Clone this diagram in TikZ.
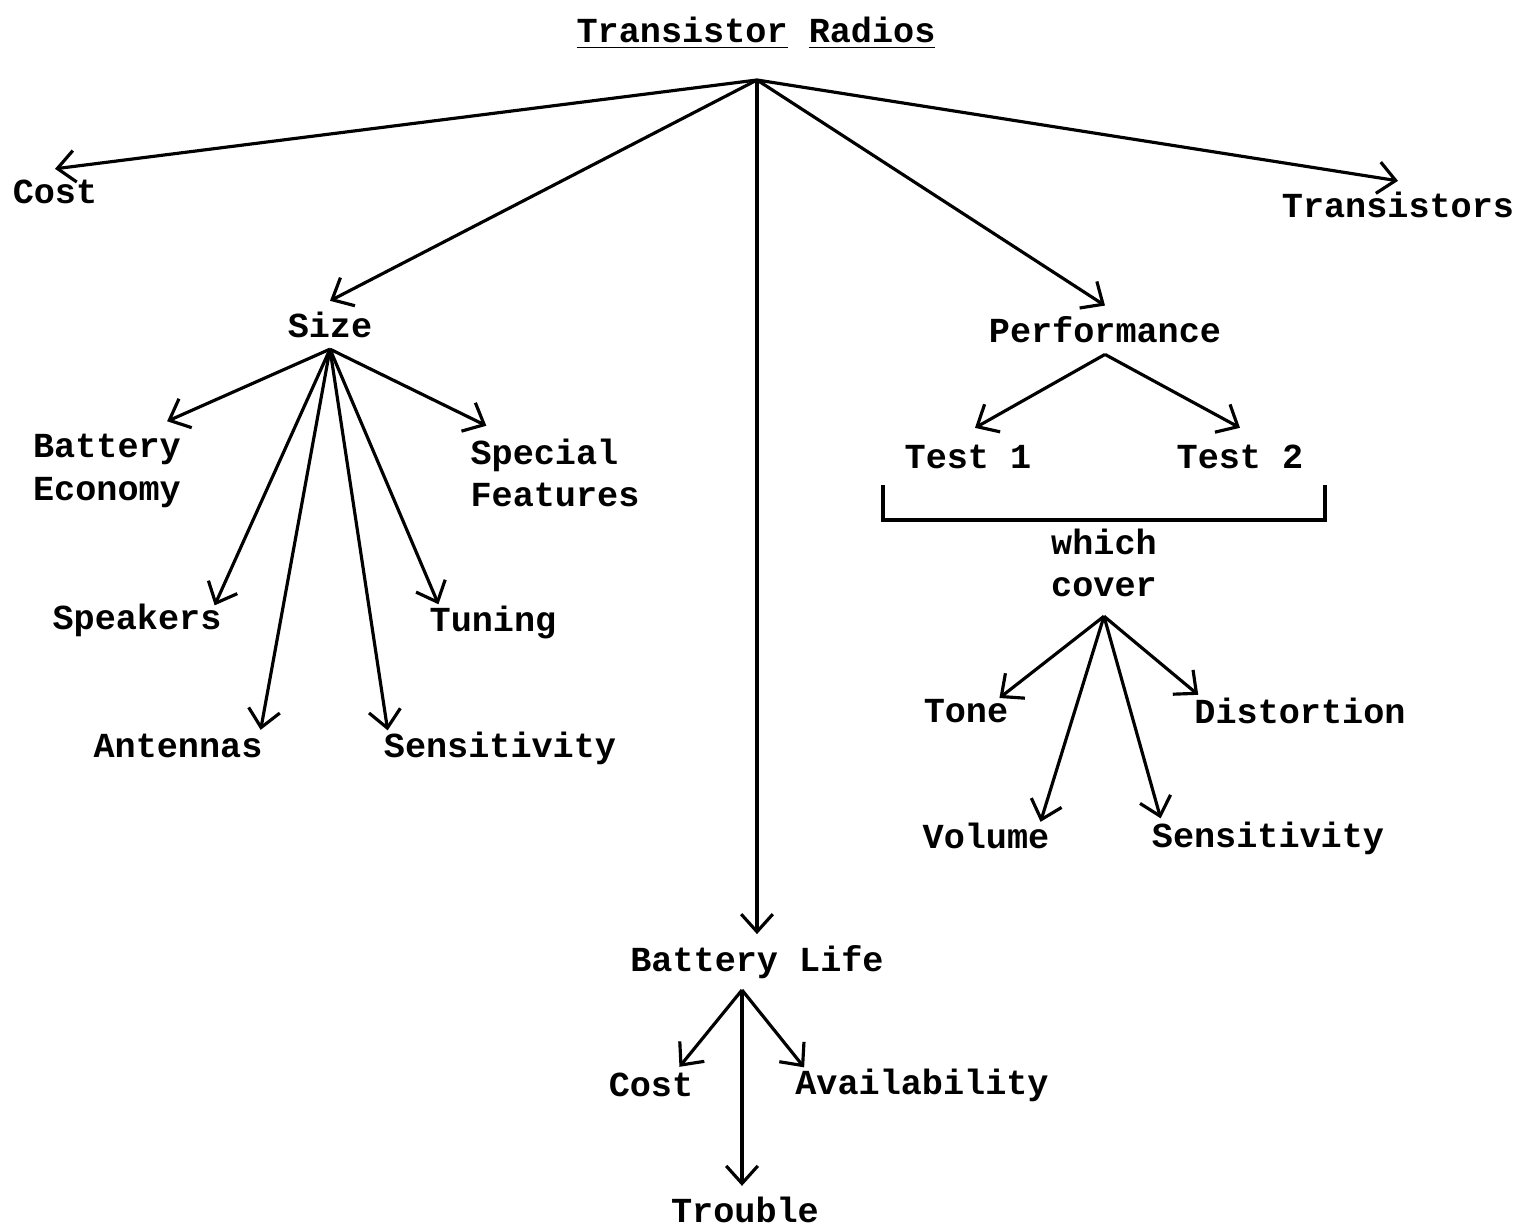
\documentclass[tikz,border=0pt]{standalone}
\usepackage{fontspec}
\setmonofont{Liberation Mono}
\usetikzlibrary{arrows.meta}
\begin{document}
\begin{tikzpicture}[x=0.01cm,y=-0.01cm,
    item/.style={font=\ttfamily\bfseries, inner sep=3pt, align=left},
    link/.style={-{Straight Barb[length=5pt,width=9pt]}, line width=0.9pt}]
    \useasboundingbox (0,0) rectangle (1517,1227);
    % Heading and its hub
    \node[item] (radios) at (756,33) {\underline{Transistor} \underline{Radios}};
    \coordinate (hub) at (757,80);
    % First level
    \node[item] (cost) at (55,192) {Cost};
    \node[item] (trans) at (1398,205) {Transistors};
    \node[item] (size) at (330,325) {Size};
    \node[item] (perf) at (1105,330) {Performance};
    \node[item] (blife) at (757,962) {Battery Life};
    \foreach \t in {cost,trans,size,perf,blife} {
        \draw[link] (hub) -- (\t.north);
    }
    % Under Size
    \node[item] (beco) at (107,471) {Battery\\Economy};
    \node[item] (spec) at (555,473) {Special\\Features};
    \node[item] (spkr) at (137,620) {Speakers};
    \node[item] (tune) at (493,622) {Tuning};
    \node[item] (ante) at (178,746) {Antennas};
    \node[item] (sens) at (500,748) {Sensitivity};
    \foreach \t/\a/\dx/\dy in {beco/north east/-25/-2,spec/north west/27/-2,
                               spkr/north east/-18/13,tune/north west/20/10,
                               ante/north east/-13/7,sens/north west/15/10} {
        \draw[link] (size.south) -- ([shift={(\dx,\dy)}]\t.\a);
    }
    % Under Performance
    \node[item] (testa) at (968,457) {Test 1};
    \node[item] (testb) at (1240,457) {Test 2};
    \draw[link] (perf.south) -- ([shift={(7,-6)}]testa.north);
    \draw[link] (perf.south) -- ([shift={(0,-6)}]testb.north);
    \draw[line width=0.9pt] (883,485) |- (1325,520) -- (1325,485);
    \node[item, align=center] (cover) at (1104,563) {which\\cover};
    \node[item] (tone) at (966,711) {Tone};
    \node[item] (dist) at (1300,711) {Distortion};
    \node[item] (volu) at (986,836) {Volume};
    \node[item] (psens) at (1268,838) {Sensitivity};
    \foreach \t/\a/\dx/\dy in {tone/north east/-20/10,dist/north west/15/8,
                               volu/north east/-20/10,psens/north west/20/8} {
        \draw[link] ([shift={(0,8)}]cover.south) -- ([shift={(\dx,\dy)}]\t.\a);
    }
    % Under Battery Life
    \coordinate (bhub) at (742,990);
    \node[item] (bcost) at (651,1085) {Cost};
    \node[item] (avail) at (922,1085) {Availability};
    \node[item] (troub) at (745,1210) {Trouble};
    \foreach \t/\a/\dx/\dy in {bcost/north east/-25/5,avail/north west/20/10,troub/north/-3/0} {
        \draw[link] (bhub) -- ([shift={(\dx,\dy)}]\t.\a);
    }
\end{tikzpicture}
\end{document}
